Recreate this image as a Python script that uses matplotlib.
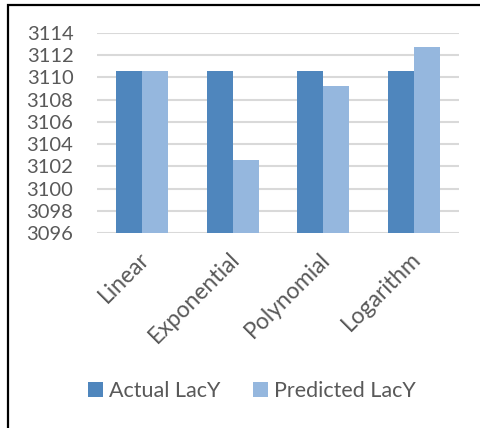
import matplotlib
matplotlib.use("Agg")
import matplotlib.pyplot as plt
import numpy as np
from matplotlib.patches import Rectangle

# values
models = ["Linear", "Exponential", "Polynomial", "Logarithm"]
actual = [3110.6, 3110.6, 3110.6, 3110.6]
predicted = [3110.6, 3102.6, 3109.2, 3112.7]
yticks = [3096, 3098, 3100, 3102, 3104, 3106, 3108, 3110, 3112, 3114]

W, H = 481, 428
plt.rcParams['font.family'] = ['Lato', 'DejaVu Sans']
fig = plt.figure(figsize=(W / 100, H / 100), dpi=100)

def px(x0, y0, x1, y1):
    return [x0 / W, 1 - y1 / H, (x1 - x0) / W, (y1 - y0) / H]

ax = fig.add_axes(px(97, 33, 459, 233))

txt = '#595959'
c_act = '#4F86BD'
c_pred = '#95B7DE'
bw = 0.286
x = np.arange(len(models))
ax.bar(x - bw / 2, np.array(actual) - 3096, bw, bottom=3096, color=c_act,
       label="Actual LacY", zorder=3)
ax.bar(x + bw / 2, np.array(predicted) - 3096, bw, bottom=3096, color=c_pred,
       label="Predicted LacY", zorder=3)

ax.set_xlim(-0.5, len(models) - 0.5)
ax.set_ylim(3096, 3114)
ax.set_yticks(yticks)
ax.yaxis.grid(True, color='#D9D9D9', linewidth=1.5, zorder=0)
for s in ax.spines.values():
    s.set_visible(False)
ax.tick_params(axis='y', length=0, pad=17, labelsize=14.5, labelcolor=txt)
ax.tick_params(axis='x', length=0, pad=11, labelsize=16.5, labelcolor=txt)
ax.set_xticks(x - 0.04)
ax.set_xticklabels(models, rotation=45, ha='right', va='top',
                   rotation_mode='anchor')

leg = fig.legend(loc='center', bbox_to_anchor=(252 / W, 1 - 391 / H), ncol=2,
                 frameon=False, fontsize=15.5, handlelength=0.7,
                 handleheight=0.7, handletextpad=0.3, columnspacing=1.5)
for t in leg.get_texts():
    t.set_color(txt)

# black frame around the chart (runs off right and bottom)
fig.patches.append(Rectangle((8 / W, -0.1), 1.2, 1 - 4.5 / H + 0.1,
                             transform=fig.transFigure, fill=False,
                             edgecolor='black', linewidth=1.6))
# cut-off caption descender above the frame
fig.text(29 / W, 1 + 10 / H, "g", fontsize=14, color='black', va='baseline')

fig.savefig("out.png", dpi=100)
